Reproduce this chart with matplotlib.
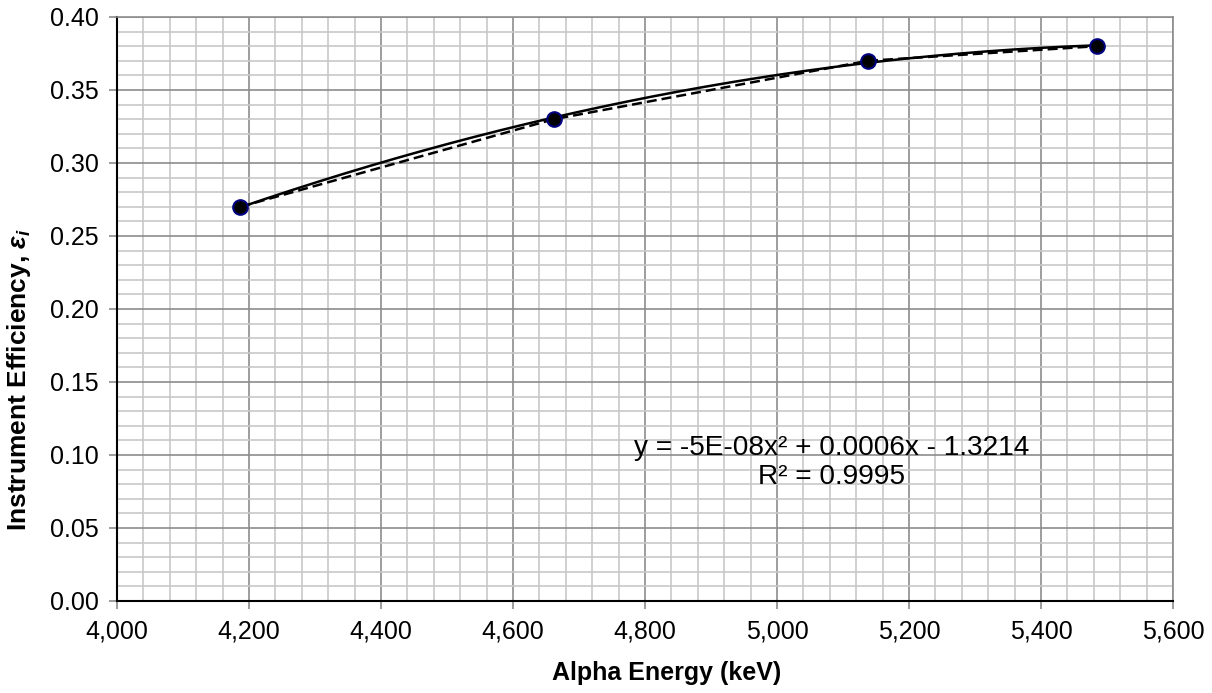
import numpy as np
import matplotlib
matplotlib.use("Agg")
import matplotlib.pyplot as plt
from matplotlib.ticker import MultipleLocator, FuncFormatter

plt.rcParams['font.family'] = ['Liberation Sans', 'DejaVu Sans']
plt.rcParams['mathtext.fontset'] = 'custom'
plt.rcParams['mathtext.it'] = 'Liberation Sans:bold:italic'
plt.rcParams['mathtext.rm'] = 'Liberation Sans:bold'

# data
energy = [4187, 4662, 5138, 5485]          # keV
efficiency = [0.27, 0.33, 0.37, 0.38]
fit_text = "y = -5E-08x² + 0.0006x - 1.3214\nR² = 0.9995"

fig = plt.figure(figsize=(12.12, 6.93), dpi=100)
ax = fig.add_axes([0.0965, 0.1328, 0.8713, 0.8427])

# grid
major_c = '#8c8c8c'
minor_c = '#c8c8c8'
ax.xaxis.set_major_locator(MultipleLocator(200))
ax.xaxis.set_minor_locator(MultipleLocator(40))
ax.yaxis.set_major_locator(MultipleLocator(0.05))
ax.yaxis.set_minor_locator(MultipleLocator(0.01))
ax.grid(True, which='major', color=major_c, linewidth=1.2)
ax.grid(True, which='minor', color=minor_c, linewidth=1.2)
ax.set_axisbelow(True)

# straight segments between points (dashed)
ax.plot(energy, efficiency, color='black', linestyle=(0, (4, 2)), linewidth=1.8, zorder=3)

# 2nd order polynomial trendline
coef = np.polyfit(energy, efficiency, 2)
xs = np.linspace(min(energy), max(energy), 300)
ax.plot(xs, np.polyval(coef, xs), color='black', linewidth=1.8, zorder=3)

ax.plot(energy, efficiency, 'o', markersize=10.5, markerfacecolor='black',
        markeredgecolor='#000080', markeredgewidth=1.5, zorder=4)

ax.set_xlim(4000, 5600)
ax.set_ylim(0, 0.40)
ax.xaxis.set_major_formatter(FuncFormatter(lambda v, p: f"{v:,.0f}"))
ax.yaxis.set_major_formatter(FuncFormatter(lambda v, p: f"{v:.2f}"))

ax.tick_params(which='major', length=6, width=1.2, color=major_c, labelsize=18, pad=7)
ax.tick_params(which='minor', length=0)

for side in ('top', 'right'):
    ax.spines[side].set_color(major_c)
    ax.spines[side].set_linewidth(1.2)
for side in ('left', 'bottom'):
    ax.spines[side].set_color('black')
    ax.spines[side].set_linewidth(1.5)

ax.set_xlabel('Alpha Energy (keV)', fontsize=18, fontweight='bold')
ax.set_ylabel(r'Instrument Efficiency, $\varepsilon_i$', fontsize=19, fontweight='bold')
ax.xaxis.set_label_coords((667 - 117) / 1056, -(661 - 601) / 584)
ax.yaxis.set_label_coords(-(117 - 33) / 1056, (601 - 380) / 584)

ax.text(4000 + (832 - 117) / 0.66, (601 - 463) / 1460, fit_text,
        ha='center', va='center', multialignment='center', fontsize=20.2,
        linespacing=1.15)

fig.savefig('out.png', dpi=100)
